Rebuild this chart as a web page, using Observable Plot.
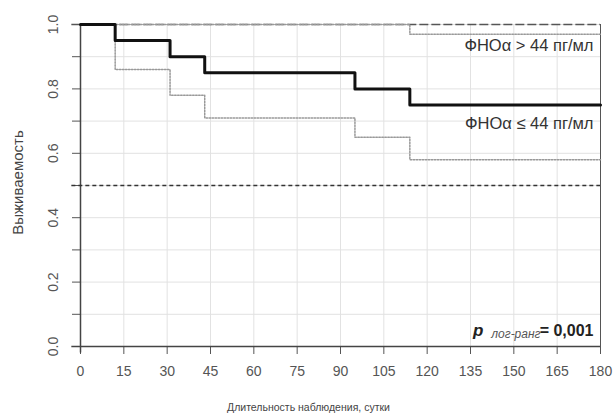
<!DOCTYPE html>
<html>
<head>
<meta charset="utf-8">
<script src="https://cdn.jsdelivr.net/npm/d3@7"></script>
<script src="https://cdn.jsdelivr.net/npm/@observablehq/plot@0.6"></script>
<style>
  html, body { margin: 0; padding: 0; background: #fff; }
</style>
</head>
<body>
<div id="chart"></div>
<script>
// Data
const times = [0, 12, 31, 43, 95, 114, 180];
const survAll = [1.0, 0.95, 0.90, 0.85, 0.80, 0.75, 0.75];
const survLow = [1.0, 0.86, 0.78, 0.71, 0.65, 0.58, 0.58];
const survHigh = [1.0, 1.0, 1.0, 1.0, 1.0, 0.97, 0.97];

const xTicks = [0, 15, 30, 45, 60, 75, 90, 105, 120, 135, 150, 165, 180];
const yLabelTicks = [0, 0.2, 0.4, 0.6, 0.8, 1.0];
const yMinorTicks = [0, 0.1, 0.2, 0.3, 0.4, 0.5, 0.6, 0.7, 0.8, 0.9, 1.0];

const labelHigh = "ФНОα > 44 пг/мл";
const labelLow = "ФНОα ≤ 44 пг/мл";
const xTitle = "Длительность наблюдения, сутки";
const yTitle = "Выживаемость";
const pValue = "= 0,001";
const pSub = "лог-ранг";

const toRows = (vals, group) => times.map((t, i) => ({t, s: vals[i], group}));
const rowsAll = toRows(survAll, "all");
const rowsLow = toRows(survLow, "low");
const rowsHigh = toRows(survHigh, "high");

const chart = Plot.plot({
  width: 613,
  height: 416,
  marginLeft: 80,
  marginRight: 13,
  marginTop: 24,
  marginBottom: 70,
  x: {domain: [0, 180]},
  y: {domain: [0, 1]},
  style: {fontFamily: "'Liberation Sans', Arial, sans-serif", background: "#fff", color: "#444"},
  marks: [
    Plot.gridX(xTicks, {stroke: "#e2e2e2", strokeOpacity: 1}),
    Plot.gridY(yMinorTicks, {stroke: "#e2e2e2", strokeOpacity: 1}),
    Plot.axisX(xTicks, {tickSize: 8, tickPadding: 12, fontSize: 14, fill: "#555", stroke: "#555", label: null, tickFormat: d => String(d)}),
    Plot.axisY(yMinorTicks, {tickSize: 8, label: null, tickFormat: () => "", stroke: "#555"}),
    Plot.text(yLabelTicks, {y: d => d, frameAnchor: "left", textAnchor: "middle", lineAnchor: "middle", dx: -27, rotate: -90, text: d => d.toFixed(1), fontSize: 14, fill: "#555"}),
    // axis lines
    Plot.ruleY([0], {x1: -3, x2: 180, stroke: "#444", strokeWidth: 1.5}),
    Plot.ruleX([0], {y1: -0.02, y2: 1, stroke: "#444", strokeWidth: 1.5}),
    Plot.ruleX([180], {y1: 0, y2: 1, stroke: "#555", strokeWidth: 1}),
    // reference lines
    Plot.ruleY([1], {x1: -3, x2: 180, stroke: "#555", strokeWidth: 1.3, strokeDasharray: "9,3"}),
    Plot.ruleY([0.5], {x1: -3, x2: 180, stroke: "#333", strokeWidth: 1.3, strokeDasharray: "4,3"}),
    // survival curves
    Plot.line(rowsHigh, {x: "t", y: "s", curve: "step-after", stroke: "#999", strokeWidth: 1.5, strokeDasharray: "1.5,1.5"}),
    Plot.line(rowsLow, {x: "t", y: "s", curve: "step-after", stroke: "#999", strokeWidth: 1.5, strokeDasharray: "1.5,1.5"}),
    Plot.line(rowsAll, {x: "t", y: "s", curve: "step-after", stroke: "#111", strokeWidth: 3}),
    // annotations
    Plot.text([labelHigh], {x: 180, y: 0.935, text: d => d, textAnchor: "end", dx: -7, fontSize: 16.5, fill: "#333"}),
    Plot.text([labelLow], {x: 180, y: 0.693, text: d => d, textAnchor: "end", dx: -7, fontSize: 16.5, fill: "#333"}),
    Plot.text([pValue], {x: 180, y: 0.05, text: d => d, textAnchor: "end", dx: -7, fontSize: 16, fontWeight: "bold", fill: "#222"}),
    Plot.text([pSub], {x: 180, y: 0.05, text: d => d, textAnchor: "end", dx: -60, dy: 4, fontSize: 12, fontStyle: "italic", fill: "#555"}),
    Plot.text(["p"], {x: 180, y: 0.05, text: d => d, textAnchor: "end", dx: -117, fontSize: 17, fontStyle: "italic", fontWeight: "bold", fill: "#222"}),
    // axis titles
    Plot.text([xTitle], {frameAnchor: "bottom", textAnchor: "middle", text: d => d, dx: -32, dy: 64, fontSize: 10.5, fill: "#444"}),
    Plot.text([yTitle], {frameAnchor: "left", textAnchor: "middle", text: d => d, dx: -62, dy: -3, rotate: -90, fontSize: 15, fill: "#444"})
  ]
});
document.getElementById("chart").appendChild(chart);
</script>
</body>
</html>
